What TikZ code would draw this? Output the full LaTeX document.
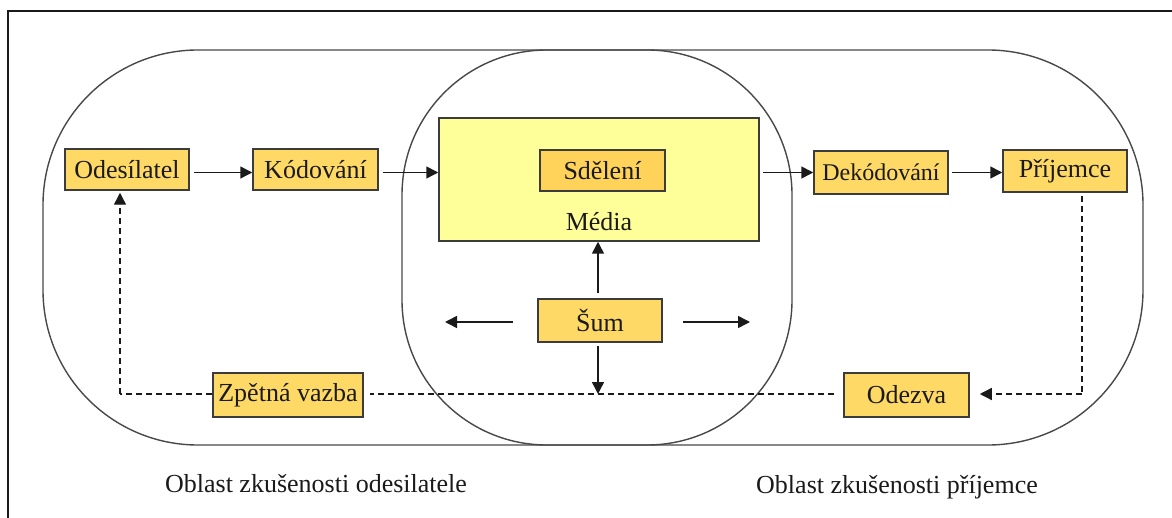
\documentclass[tikz,border=0pt]{standalone}
\usepackage{fontspec}
\setmainfont{Liberation Serif}
\usetikzlibrary{arrows.meta}
\definecolor{boxfill}{HTML}{FFD966}
\definecolor{sdelfill}{HTML}{FFD35A}
\definecolor{mediafill}{HTML}{FFFF99}
\definecolor{ink}{HTML}{1A1A1A}
\tikzset{
  box/.style={draw=ink!85, line width=0.75pt, fill=boxfill, text=ink, inner sep=0pt,
    font=\fontsize{13}{15}\selectfont},
  area/.style={draw=ink!80, line width=0.7pt},
  arr/.style={draw=ink, line width=0.75pt, -{Triangle[length=6pt,width=6pt]}},
  dashline/.style={draw=ink, line width=0.7pt, dash pattern=on 3pt off 2pt},
  lbl/.style={text=ink, inner sep=0pt, font=\fontsize{13}{15}\selectfont}
}
\begin{document}
\begin{tikzpicture}[x=0.5pt,y=-0.5pt]
\useasboundingbox (0,0) rectangle (1172,518);
% frame
\draw[line width=1pt, ink] (8,518) -- (8,11) -- (1172,11);
% experience areas
\draw[area, rounded corners=77.5pt] (43,50) rectangle (1143,445);
\draw[area, rounded corners=72.5pt] (402,50) rectangle (792,445);
% media
\node[box, fill=mediafill, minimum width=160pt, minimum height=61.5pt] (media) at (599,179.5) {};
\node[lbl] (medialbl) at (599,222) {Média};
\node[box, fill=sdelfill, minimum width=62.5pt, minimum height=20.5pt] (sdel) at (602.5,170.5) {Sdělení};
% boxes
\node[box, minimum width=62pt, minimum height=20.5pt] (ode) at (127,169.5) {Odesílatel};
\node[box, minimum width=62.5pt, minimum height=20.5pt] (kod) at (315.5,169.5) {Kódování};
\node[box, minimum width=67pt, minimum height=21.5pt, font=\fontsize{12}{14}\selectfont] (dek) at (881,172.5) {Dekódování};
\node[box, minimum width=62pt, minimum height=21pt] (pri) at (1065,171) {Příjemce};
\node[box, minimum width=62pt, minimum height=21.5pt] (sum) at (600,320.5) {Šum};
\node[box, minimum width=75pt, minimum height=22pt] (zpet) at (288,395) {Zpětná vazba};
\node[box, minimum width=62.5pt, minimum height=22pt] (odez) at (906.5,395) {Odezva};
% labels
\node[lbl] (lodes) at (316,484) {Oblast zkušenosti odesilatele};
\node[lbl] (lprij) at (897,487) {Oblast zkušenosti příjemce};
% main flow
\draw[arr, shorten <=2pt] ([yshift=-1.5pt]ode.east) -- ([yshift=-1.5pt]kod.west);
\draw[arr, shorten <=2pt] ([yshift=-1.5pt]kod.east) -- ([yshift=-1.5pt]media.west |- kod.east);
\draw[arr, shorten <=1.5pt] (media.east |- dek.west) -- (dek.west);
\draw[arr, shorten <=1.5pt] (dek.east) -- (pri.west |- dek.east);
% noise
\coordinate (sumL) at (445,322);
\coordinate (sumR) at (750,322);
\coordinate (sumD) at (598,394);
\draw[arr, shorten <=2.5pt] (sum.north -| sumD) -- (media.south -| sumD);
\draw[arr, shorten <=1.5pt] (sum.south -| sumD) -- (sumD);
\draw[arr, shorten <=12pt] (sum.west |- sumL) -- (sumL);
\draw[arr, shorten <=10pt] (sum.east |- sumR) -- (sumR);
% feedback loop
\coordinate (prB) at (1082,196);
\coordinate (prC) at (1082,394);
\coordinate (odC) at (120,394);
\draw[dashline] (prB) -- (prC);
\draw[dashline, -{Triangle[length=6pt,width=6pt]}, shorten >=5pt] (prC) -- (odez.east |- prC);
\draw[dashline, shorten <=4.5pt, shorten >=3pt] (odez.west |- prC) -- (zpet.east |- prC);
\draw[dashline] (zpet.west |- odC) -- (odC);
\draw[dashline, -{Triangle[length=6pt,width=6pt]}, shorten >=1pt] (odC) -- (ode.south -| odC);
\end{tikzpicture}
\end{document}
